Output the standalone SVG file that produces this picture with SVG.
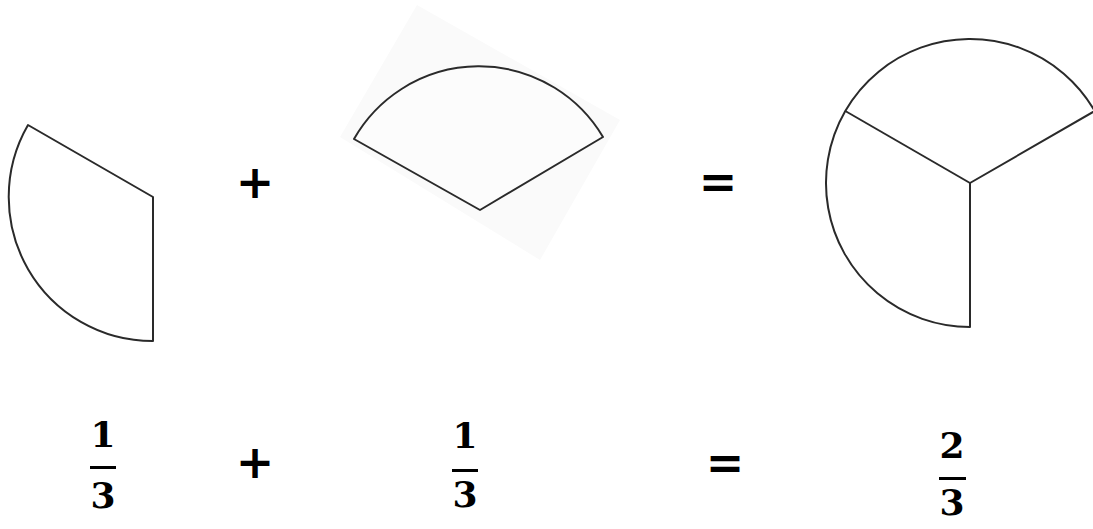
<svg xmlns="http://www.w3.org/2000/svg" width="1093" height="529" viewBox="0 0 1093 529">
<style>
.shape{fill:#fff;stroke:#2a2a2a;stroke-width:2;stroke-linejoin:round}
.line{fill:none;stroke:#2a2a2a;stroke-width:2}
.op{font-family:"DejaVu Sans",sans-serif;font-weight:bold;font-size:46px;fill:#000;text-anchor:middle}
.num{font-family:"DejaVu Serif",serif;font-weight:bold;font-size:36px;fill:#000;text-anchor:middle}
.bar{fill:#000}
</style>
<rect width="1093" height="529" fill="#fff"/>
<g id="sector-left">
<path class="shape" d="M153,197 L28,125 A144,144 0 0 0 153,341 Z"/>
</g>
<g id="sector-middle">
<polygon points="417,5 620,120 540,260 340,137" fill="#fafafa"/>
<path class="shape" style="fill:#fcfcfc" d="M354,139 A144,144 0 0 1 603,137 L480,210 Z"/>
</g>
<g id="sector-right">
<path class="shape" d="M970,183 L970,327 A144,144 0 1 1 1094.7,111 Z"/>
<line class="line" x1="970" y1="183" x2="845.3" y2="111"/>
</g>
<g id="ops-top">
<text class="op" x="255" y="198">+</text>
<text class="op" x="718" y="198">=</text>
</g>
<g id="frac-left">
<text class="num" x="103" y="447">1</text>
<rect class="bar" x="90" y="466" width="26" height="3"/>
<text class="num" x="103" y="508">3</text>
</g>
<g id="ops-bottom">
<text class="op" x="255" y="478">+</text>
<text class="op" x="725" y="479">=</text>
</g>
<g id="frac-middle">
<text class="num" x="465" y="448">1</text>
<rect class="bar" x="452" y="469" width="26" height="3"/>
<text class="num" x="465" y="507">3</text>
</g>
<g id="frac-right">
<text class="num" x="952" y="458">2</text>
<rect class="bar" x="939" y="477" width="27" height="3"/>
<text class="num" x="952" y="515">3</text>
</g>
</svg>
